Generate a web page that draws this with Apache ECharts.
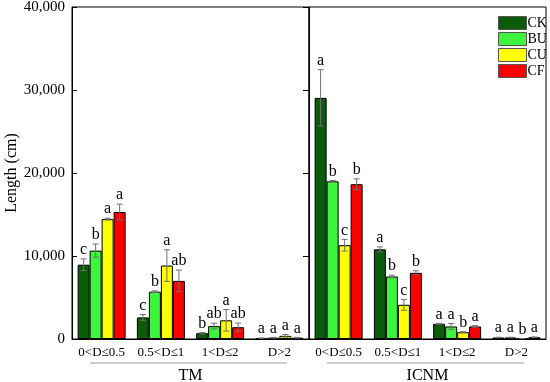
<!DOCTYPE html>
<html><head><meta charset="utf-8">
<script src="https://cdn.jsdelivr.net/npm/echarts@6/dist/echarts.min.js"></script>
<style>html,body{margin:0;padding:0;background:#fff}#c{width:550px;height:382px}</style>
</head><body><div id="c"></div>
<script>
const categories = ['0<D≤0.5', '0.5<D≤1', '1<D≤2', 'D>2'];
const treatments = ['CK', 'BU', 'CU', 'CF'];
const yTicks = [0, 10000, 20000, 30000, 40000];

// TM panel
const tmCK = [8950, 2600, 700, 100];
const tmBU = [10650, 5700, 1550, 150];
const tmCU = [14450, 8850, 2250, 380];
const tmCF = [15300, 7000, 1420, 150];
const tmCKErr = [700, 350, 80, 30];
const tmBUErr = [800, 100, 350, 40];
const tmCUErr = [100, 1900, 1300, 150];
const tmCFErr = [950, 1300, 500, 40];
const tmCKSig = ['c', 'c', 'b', 'a'];
const tmBUSig = ['b', 'b', 'ab', 'a'];
const tmCUSig = ['a', 'a', 'a', 'a'];
const tmCFSig = ['a', 'ab', 'ab', 'a'];

// ICNM panel
const icCK = [29050, 10800, 1830, 180];
const icBU = [19000, 7530, 1510, 180];
const icCU = [11300, 4120, 820, 50];
const icCF = [18650, 7970, 1510, 220];
const icCKErr = [3400, 300, 60, 30];
const icBUErr = [100, 150, 350, 30];
const icCUErr = [700, 650, 60, 10];
const icCFErr = [650, 250, 100, 30];
const icCKSig = ['a', 'a', 'a', 'a'];
const icBUSig = ['b', 'b', 'a', 'a'];
const icCUSig = ['c', 'c', 'b', 'b'];
const icCFSig = ['b', 'b', 'a', 'a'];

const colors = ['#0a5c0a', '#3cf53c', '#ffff00', '#ff0000'];
const FONT = '"Liberation Serif", "Times New Roman", serif';
const BAR_W = 12;

const panels = [
  {name: 'TM', vals: [tmCK, tmBU, tmCU, tmCF], errs: [tmCKErr, tmBUErr, tmCUErr, tmCFErr], sigs: [tmCKSig, tmBUSig, tmCUSig, tmCFSig]},
  {name: 'ICNM', vals: [icCK, icBU, icCU, icCF], errs: [icCKErr, icBUErr, icCUErr, icCFErr], sigs: [icCKSig, icBUSig, icCUSig, icCFSig]}
];

const series = [];
panels.forEach((p, g) => {
  treatments.forEach((t, i) => {
    series.push({
      name: t, type: 'bar', xAxisIndex: g, yAxisIndex: g,
      data: p.vals[i], barWidth: BAR_W, barGap: '0%',
      itemStyle: {color: colors[i], borderColor: '#000', borderWidth: 1}
    });
  });
  treatments.forEach((t, i) => {
    const sig = p.sigs[i];
    series.push({
      type: 'custom', xAxisIndex: g, yAxisIndex: g, z: 5, clip: false,
      silent: true,
      data: p.vals[i].map((v, k) => [k, v, p.errs[i][k]]),
      encode: {x: 0, y: 1},
      renderItem: function (params, api) {
        const c = api.value(0), v = api.value(1), e = api.value(2);
        const top = api.coord([c, v + e]);
        const bot = api.coord([c, Math.max(0, v - e)]);
        const x = top[0] + (i - 1.5) * BAR_W;
        const cap = 3;
        const ls = {stroke: '#707070', lineWidth: 1};
        return {
          type: 'group',
          children: [
            {type: 'line', shape: {x1: x, y1: top[1], x2: x, y2: bot[1]}, style: ls},
            {type: 'line', shape: {x1: x - cap, y1: top[1], x2: x + cap, y2: top[1]}, style: ls},
            {type: 'line', shape: {x1: x - cap, y1: bot[1], x2: x + cap, y2: bot[1]}, style: ls},
            {type: 'text', style: {x: x, y: top[1] - 1, text: sig[params.dataIndex], align: 'center', verticalAlign: 'bottom', fontSize: 16, fontFamily: FONT, fill: '#000'}}
          ]
        };
      }
    });
  });
});

const fmt = v => v.toLocaleString('en-US');

const gridBase = {top: 7, bottom: 43, show: true, borderColor: '#000', borderWidth: 1, backgroundColor: 'transparent', containLabel: false, outerBoundsMode: 'none'};

const option = {
  animation: false,
  backgroundColor: '#fff',
  grid: [
    Object.assign({left: 72, right: 241}, gridBase),
    Object.assign({left: 309, right: 4}, gridBase)
  ],
  legend: {
    orient: 'vertical', left: 493, top: 11, itemWidth: 28, itemHeight: 13, itemGap: 2,
    icon: 'rect', data: treatments,
    itemStyle: {borderColor: '#555', borderWidth: 1},
    textStyle: {fontFamily: FONT, fontSize: 14, color: '#000', padding: [0, 0, 0, -4]}
  },
  xAxis: panels.map((p, g) => ({
    type: 'category', gridIndex: g, data: categories,
    name: p.name, nameLocation: 'middle', nameGap: 29,
    nameTextStyle: {fontFamily: FONT, fontSize: 16, color: '#000'},
    axisLine: {lineStyle: {color: '#000'}},
    axisTick: {alignWithLabel: true, length: 5, lineStyle: {color: '#000'}},
    axisLabel: {fontFamily: FONT, fontSize: 13, color: '#000', margin: 7, interval: 0}
  })),
  yAxis: [
    {
      type: 'value', gridIndex: 0, min: 0, max: 40000, interval: 10000,
      name: 'Length (cm)', nameLocation: 'middle', nameGap: 50,
      nameTextStyle: {fontFamily: FONT, fontSize: 16, color: '#000'},
      axisLine: {show: true, lineStyle: {color: '#000'}},
      axisTick: {show: true, inside: true, length: 5, lineStyle: {color: '#000'}},
      axisLabel: {formatter: fmt, fontFamily: FONT, fontSize: 15, color: '#000', margin: 7},
      splitLine: {show: false}
    },
    {
      type: 'value', gridIndex: 1, min: 0, max: 40000, interval: 10000,
      axisLine: {show: true, lineStyle: {color: '#000'}},
      axisTick: {show: true, inside: false, length: 6, lineStyle: {color: '#000'}},
      axisLabel: {show: false},
      splitLine: {show: false}
    }
  ],
  graphic: [
    {type: 'line', shape: {x1: 90, y1: 363, x2: 287, y2: 363}, style: {stroke: '#9a9a9a', lineWidth: 1}},
    {type: 'line', shape: {x1: 327, y1: 363, x2: 524, y2: 363}, style: {stroke: '#9a9a9a', lineWidth: 1}}
  ],
  series: series
};

echarts.init(document.getElementById('c'), null, {renderer: 'canvas'}).setOption(option);
</script>
</body></html>
